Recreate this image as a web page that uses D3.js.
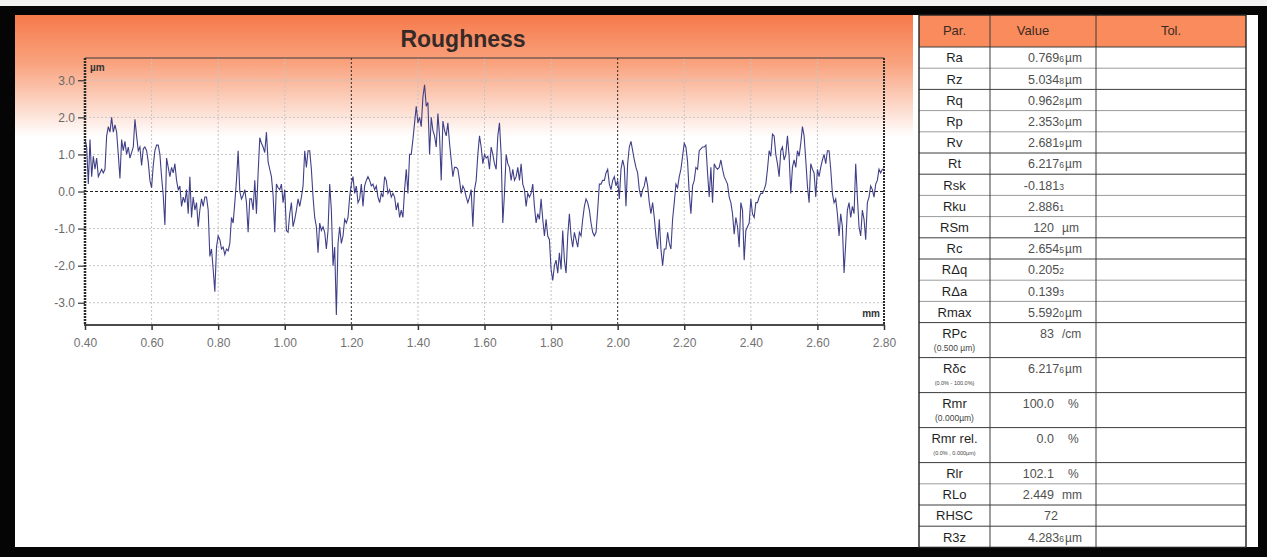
<!DOCTYPE html>
<html>
<head>
<meta charset="utf-8">
<script src="https://cdn.jsdelivr.net/npm/d3@7"></script>
<style>
  html, body { margin: 0; padding: 0; background: #fff; }
  svg { display: block; font-family: "Liberation Sans", Arial, Helvetica, sans-serif; }
</style>
</head>
<body>
<svg id="chart" width="1267" height="557"></svg>
<script>
// ---- Roughness profile (µm), sampled every 0.005 mm from 0.400 mm ----
const profileStart = 0.40;
const profileStep = 0.005;
const profile = [
  1.4,1.2,0.2,1.4,0.4,0.95,0.6,0.9,0.4,0.5,
  0.6,0.5,0.6,1.5,1.75,1.6,2.0,1.6,1.8,1.6,
  1.0,0.35,1.4,1.1,1.35,1.0,1.2,0.9,1.05,1.2,
  1.95,1.5,1.1,1.2,0.7,1.15,1.2,1.1,0.8,0.3,
  0.1,0.7,1.1,1.25,1.25,1.0,0.4,-0.1,-0.9,0.9,
  0.65,0.4,0.65,0.5,0.75,0.3,0.05,0.15,-0.4,-0.15,
  -0.3,0.05,-0.6,0.4,-0.7,-0.15,-0.5,-0.3,-0.95,-0.5,
  -0.2,-0.4,-0.15,-0.15,-0.5,-1.75,-1.55,-2.1,-2.7,-1.5,
  -1.2,-1.3,-1.55,-1.5,-1.7,-1.55,-1.6,-1.4,-0.7,-0.85,
  -0.3,0.3,1.1,0.0,-0.2,-0.1,0.05,-0.3,-1.1,-0.2,
  -0.2,-0.5,0.3,-0.6,0.5,1.45,1.3,1.2,1.05,1.6,
  0.8,0.6,0.4,-0.1,-1.1,0.2,0.1,0.05,0.2,-0.3,
  0.05,-1.05,
  -1.1,-0.6,-0.3,-0.95,-0.75,-0.5,-0.2,-0.4,-0.15,0.15,
  1.1,0.65,1.1,1.1,0.6,-0.15,-0.7,-0.95,-1.65,-0.85,
  -1.05,-0.95,-1.1,-1.55,-1.05,0.2,-0.5,-2.0,-1.5,-3.33,
  -1.4,-0.95,-1.4,-1.2,-0.75,-0.85,-0.7,-0.15,0.2,0.4,
  -0.05,0.15,-0.3,-0.2,0.2,-0.4,0.15,0.3,0.4,0.3,
  0.15,0.2,0.05,0.15,-0.15,-0.3,-0.05,-0.15,0.4,0.3,
  -0.05,0.05,-0.15,-0.05,-0.15,-0.5,-0.3,-0.7,-0.5,-0.7,
  0.05,0.6,-0.05,1.0,1.0,1.4,1.85,2.3,1.85,2.0,
  1.75,2.55,2.88,2.3,2.4,1.0,2.0,1.65,1.5,1.2,
  2.1,1.5,0.3,1.9,1.65,1.5,1.85,1.3,0.85,0.4,
  0.65,0.65,0.6,0.3,-0.05,0.15,0.05,-0.15,-0.3,-0.15,
  0.05,-0.95,0.05,0.3,1.0,1.5,1.2,0.75,1.0,0.9,
  0.95,0.6,1.2,1.0,0.75,0.6,1.5,1.85,1.0,-0.85,
  -0.05,1.0,0.75,0.65,0.3,0.6,0.3,0.4,0.65,0.3,
  0.75,0.2,0.05,-0.4,-0.05,-0.15,-0.05,0.2,-0.4,-0.85,
  -0.6,-0.75,-0.2,-0.75,-1.2,-0.75,-1.2,-1.3,-2.1,-2.4,
  -2.0,-1.85,-2.2,-1.65,-2.1,-1.05,-1.85,-2.2,-1.2,-0.6,
  -1.2,-1.5,-1.1,-1.3,-1.5,-1.1,-1.2,-0.75,-0.4,-0.2,
  -0.3,-0.5,-0.85,-1.1,-1.2,-1.1,-0.5,0.2,0.2,0.3,
  0.3,0.5,0.6,0.2,0.05,0.3,0.4,0.15,0.3,-0.2,
  0.6,0.85,0.65,-0.4,0.75,1.2,1.35,1.1,0.85,0.65,
  0.5,0.05,-0.15,0.05,0.15,0.4,0.15,-0.3,-0.6,-0.3,
  -0.7,-1.2,-1.55,-0.75,-1.55,-2.0,-1.55,-1.55,-1.1,-1.4,
  -1.55,-0.75,-0.3,0.2,0.1,0.4,0.6,0.95,1.3,1.2,
  0.8,-0.05,-0.6,0.15,0.3,0.65,0.6,1.1,1.15,1.2,
  1.2,1.25,0.5,-0.15,0.65,-0.3,0.75,0.65,0.6,0.65,
  0.85,0.6,0.4,0.3,0.2,-0.15,-0.3,-0.6,-1.15,-0.7,
  -0.95,-1.5,-0.3,-0.5,-1.85,-1.05,-0.95,-0.85,-0.2,-0.6,
  -0.7,-0.3,-0.3,-0.15,-0.05,-0.05,0.05,0.2,0.6,1.1,
  0.95,1.55,1.5,1.0,0.75,0.4,1.1,1.2,0.85,1.0,
  1.5,0.95,-0.05,0.65,0.85,0.65,1.1,0.95,1.3,1.75,
  1.5,0.85,0.15,-0.3,0.75,0.6,0.5,-0.15,0.6,0.4,
  0.65,0.85,1.0,0.75,1.1,1.1,0.6,-0.05,-0.3,-0.2,
  -0.6,-1.2,-0.6,-0.95,-2.2,-1.4,-0.5,-0.3,-0.7,-0.4,
  -0.6,0.75,-0.15,-0.95,-1.2,-0.5,-0.75,-1.3,-0.3,-0.15,
  0.15,0.05,-0.15,0.2,0.3,0.6,0.5,0.6,0.6
];

// ---- Axis ticks ----
const xTicks = [0.40,0.60,0.80,1.00,1.20,1.40,1.60,1.80,2.00,2.20,2.40,2.60,2.80];
const yTicks = [3,2,1,0,-1,-2,-3];
const cutoffMarks = [1.20, 2.00];   // sampling-length boundaries (λc = 0.8 mm)

// ---- Parameter table ----
const parNames  = ["Ra","Rz","Rq","Rp","Rv","Rt","Rsk","Rku","RSm","Rc","RΔq","RΔa","Rmax","RPc","Rδc","Rmr","Rmr rel.","Rlr","RLo","RHSC","R3z"];
const parNotes  = ["","","","","","","","","","","","","","(0.500 µm)","(0.0% - 100.0%)","(0.000µm)","(0.0% , 0.000µm)","","","",""];
const parValues = ["0.769","5.034","0.962","2.353","2.681","6.217","-0.181","2.886","120","2.654","0.205","0.139","5.592","83","6.217","100.0","0.0","102.1","2.449","72","4.283"];
const parDigits = ["6","8","8","0","9","6","3","1","","5","2","3","0","","6","","","","","","6"];
const parUnits  = ["µm","µm","µm","µm","µm","µm","","","µm","µm","","","µm","/cm","µm","%","%","%","mm","","µm"];
const tableHeaders = ["Par.","Value","Tol."];

const svg = d3.select("#chart");
const defs = svg.append("defs");

// ---------- frame ----------
svg.append("rect").attr("x",0).attr("y",0).attr("width",1267).attr("height",557).attr("fill","#f2f2f2");
svg.append("rect").attr("x",0).attr("y",6).attr("width",1267).attr("height",551).attr("fill","#050505");
svg.append("rect").attr("x",15).attr("y",15).attr("width",1243).attr("height",532).attr("fill","#ffffff");

// ---------- chart panel background ----------
const fade = defs.append("linearGradient").attr("id","panelFade")
  .attr("x1",0).attr("y1",0).attr("x2",0).attr("y2",1);
fade.append("stop").attr("offset","0%").attr("stop-color","#f67a4b");
fade.append("stop").attr("offset","40%").attr("stop-color","#f9a37f");
fade.append("stop").attr("offset","100%").attr("stop-color","#ffffff");
svg.append("rect").attr("x",15).attr("y",15).attr("width",898).attr("height",122)
  .attr("fill","url(#panelFade)");

svg.append("text").attr("x",463).attr("y",47).attr("text-anchor","middle")
  .attr("font-size",23).attr("font-weight","bold").attr("fill","#352a28")
  .text("Roughness");

// ---------- scales ----------
const x = d3.scaleLinear().domain([0.40, 2.80]).range([85, 884]);
const y = d3.scaleLinear().domain([-3.6, 3.6]).range([325, 58]);

const plot = svg.append("g");

// light grid
plot.selectAll("line.gx").data(xTicks.filter(t => t > 0.41 && t < 2.79 && !cutoffMarks.some(c => Math.abs(c - t) < 1e-6)))
  .join("line").attr("x1",d=>x(d)).attr("x2",d=>x(d)).attr("y1",y(3.6)).attr("y2",y(-3.6))
  .attr("stroke","#c4c4c4").attr("stroke-width",1).attr("stroke-dasharray","2,2");
plot.selectAll("line.gy").data(yTicks.filter(t => t !== 0))
  .join("line").attr("x1",x(0.40)).attr("x2",x(2.80)).attr("y1",d=>y(d)).attr("y2",d=>y(d))
  .attr("stroke","#c4c4c4").attr("stroke-width",1).attr("stroke-dasharray","2,2");

// cut-off and zero lines
plot.selectAll("line.cut").data(cutoffMarks).join("line")
  .attr("x1",d=>x(d)).attr("x2",d=>x(d)).attr("y1",y(3.6)).attr("y2",y(-3.6))
  .attr("stroke","#2a2a2a").attr("stroke-width",1).attr("stroke-dasharray","2,2");
plot.append("line").attr("x1",x(0.40)).attr("x2",x(2.80)).attr("y1",y(0)).attr("y2",y(0))
  .attr("stroke","#1e1e1e").attr("stroke-width",1.2).attr("stroke-dasharray","3,2");

// profile trace
const line = d3.line()
  .x((d,i) => x(profileStart + i * profileStep))
  .y(d => y(d));
plot.append("path").datum(profile).attr("d", line)
  .attr("fill","none").attr("stroke","#404088").attr("stroke-width",1.1)
  .attr("stroke-linejoin","miter");

// frame of the plot
plot.append("line").attr("x1",x(0.40)).attr("x2",x(2.80)).attr("y1",y(3.6)).attr("y2",y(3.6))
  .attr("stroke","#3a3a3a").attr("stroke-width",1);
plot.append("line").attr("x1",x(2.80)).attr("x2",x(2.80)).attr("y1",y(3.6)).attr("y2",y(-3.6))
  .attr("stroke","#2a2a2a").attr("stroke-width",2).attr("stroke-dasharray","2,1");
plot.append("line").attr("x1",x(0.40)).attr("x2",x(0.40)).attr("y1",y(3.6)).attr("y2",y(-3.6))
  .attr("stroke","#2a2a2a").attr("stroke-width",2.5).attr("stroke-dasharray","2,1");
plot.append("line").attr("x1",x(0.40)-1).attr("x2",x(2.80)+1).attr("y1",y(-3.6)).attr("y2",y(-3.6))
  .attr("stroke","#4a4a4a").attr("stroke-width",2.2);

// axes
const yAxis = d3.axisLeft(y).tickValues(yTicks).tickFormat(d => d.toFixed(1)).tickSize(7).tickPadding(3);
const gy = svg.append("g").attr("transform",`translate(${x(0.40)},0)`).call(yAxis);
gy.select(".domain").remove();
gy.selectAll(".tick line").attr("stroke","#333").attr("stroke-width",1.2);
gy.selectAll(".tick text").attr("font-size",12).attr("fill","#686868")
  .attr("font-family","'Liberation Sans', Arial, sans-serif");

const xAxis = d3.axisBottom(x).tickValues(xTicks).tickFormat(d => d.toFixed(2)).tickSize(5).tickPadding(8);
const gx = svg.append("g").attr("transform",`translate(0,${y(-3.6)})`).call(xAxis);
gx.select(".domain").remove();
gx.selectAll(".tick line").attr("stroke","#333").attr("stroke-width",1.5);
gx.selectAll(".tick text").attr("font-size",12).attr("fill","#727272")
  .attr("font-family","'Liberation Sans', Arial, sans-serif");

// unit labels
svg.append("text").attr("x",x(0.40)+5).attr("y",y(3.6)+13)
  .attr("font-size",10).attr("font-weight","bold").attr("fill","#333").text("µm");
svg.append("text").attr("x",x(2.80)-4).attr("y",y(-3.6)-8).attr("text-anchor","end")
  .attr("font-size",10).attr("font-weight","bold").attr("fill","#333").text("mm");

// ---------- parameter table ----------
const tLeft = 919, tRight = 1246, colPar = 990, colVal = 1096;
const headTop = 15, headBottom = 47;
const singleH = 21.2, doubleH = 35;
const rowTops = [];
let acc = headBottom;
parNames.forEach((n,i) => { rowTops.push(acc); acc += parNotes[i] ? doubleH : singleH; });
const tBottom = acc;
const lightRules = new Set(["Ra","Rq","Rp","Rsk","Rku","RΔq","RΔa","Rlr"]);

const tbl = svg.append("g");
tbl.append("rect").attr("x",tLeft).attr("y",headTop).attr("width",tRight-tLeft).attr("height",headBottom-headTop)
  .attr("fill","#f98b5d");

// row rules
tbl.selectAll("line.row").data(parNames.slice(0,-1)).join("line")
  .attr("x1",tLeft).attr("x2",tRight)
  .attr("y1",(d,i)=>rowTops[i+1]).attr("y2",(d,i)=>rowTops[i+1])
  .attr("stroke",d => lightRules.has(d) ? "#9a9a9a" : "#3c3c3c")
  .attr("stroke-width",1);
tbl.append("line").attr("x1",tLeft).attr("x2",tRight).attr("y1",headBottom).attr("y2",headBottom)
  .attr("stroke","#3c3c3c").attr("stroke-width",1.2);
// column rules
[colPar, colVal].forEach(cx => {
  tbl.append("line").attr("x1",cx).attr("x2",cx).attr("y1",headTop).attr("y2",tBottom)
    .attr("stroke","#3c3c3c").attr("stroke-width",1);
});
tbl.append("rect").attr("x",tLeft).attr("y",headTop).attr("width",tRight-tLeft).attr("height",tBottom-headTop)
  .attr("fill","none").attr("stroke","#222").attr("stroke-width",1.4);

// headers
const headCenters = [(tLeft+colPar)/2, (colPar+colVal)/2 - 10, (colVal+tRight)/2];
tbl.selectAll("text.head").data(tableHeaders).join("text")
  .attr("x",(d,i)=>headCenters[i]).attr("y",35).attr("text-anchor","middle")
  .attr("font-size",13).attr("fill","#3b2a22").text(d=>d);

// rows
parNames.forEach((name,i) => {
  const top = rowTops[i];
  const isDouble = !!parNotes[i];
  const base = isDouble ? top + 15 : top + 15.3;
  tbl.append("text").attr("x",(tLeft+colPar)/2).attr("y",base).attr("text-anchor","middle")
    .attr("font-size",13).attr("fill","#1f1f1f").text(name);
  if (isDouble) {
    const small = parNotes[i].length > 12;
    tbl.append("text").attr("x",(tLeft+colPar)/2).attr("y",top + (small ? 27 : 28))
      .attr("text-anchor","middle").attr("font-size", small ? 5.5 : 8.5).attr("fill","#444")
      .text(parNotes[i]);
  }
  const hasDigit = parDigits[i] !== "";
  const numEnd = hasDigit ? 1064 : (parUnits[i] === "" ? 1058 : 1054);
  const t = tbl.append("text").attr("x",numEnd).attr("y",base).attr("text-anchor","end")
    .attr("font-size",12.5).attr("fill","#505050");
  t.append("tspan").text(parValues[i]);
  if (hasDigit) t.append("tspan").attr("font-size",8.5).text(parDigits[i]);
  if (parUnits[i]) {
    tbl.append("text").attr("x", hasDigit ? 1065 : (parUnits[i] === "%" ? 1068 : 1062)).attr("y",base)
      .attr("font-size",12).attr("fill","#505050").text(parUnits[i]);
  }
});
</script>
</body>
</html>
